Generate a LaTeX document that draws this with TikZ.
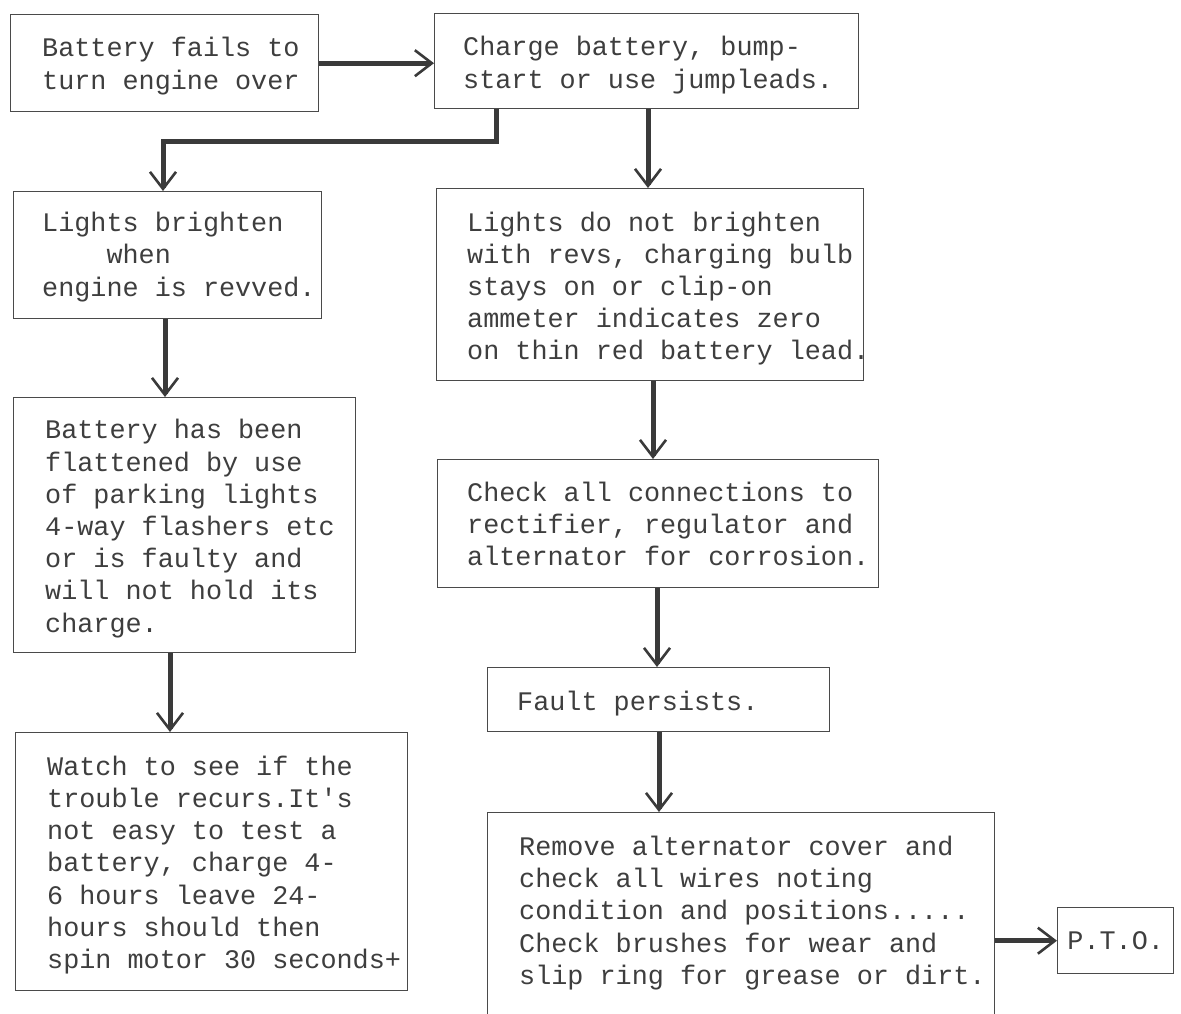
\documentclass[tikz,border=0pt]{standalone}
\usepackage{fontspec}
\newfontfamily\tw{Liberation Mono}
\usetikzlibrary{arrows.meta}
\definecolor{linec}{HTML}{4A4A4A}
\definecolor{textc}{HTML}{3E3E3E}
\definecolor{arrc}{HTML}{3A3A3A}
\begin{document}
\begin{tikzpicture}[x=1pt,y=-1pt,
  box/.style={draw=linec, line width=1.4pt, inner sep=0pt, anchor=north west},
  txt/.style={font=\tw\fontsize{26.8}{32.2}\selectfont, text=textc, align=left, inner sep=0pt, anchor=west},
  arr/.style={draw=arrc, line width=5pt, -{Straight Barb[length=17pt,width=26pt,line width=2.6pt]}}]
\useasboundingbox[fill=white] (0,0) rectangle (1181,1014);

% boxes
\node[box, minimum width=308pt, minimum height=97pt] (a) at (10,14) {};
\node[box, minimum width=424pt, minimum height=95pt] (b) at (434,13) {};
\node[box, minimum width=308pt, minimum height=127pt] (c) at (13,191) {};
\node[box, minimum width=427pt, minimum height=192pt] (d) at (436,188) {};
\node[box, minimum width=342pt, minimum height=255pt] (e) at (13,397) {};
\node[box, minimum width=441pt, minimum height=128pt] (f) at (437,459) {};
\node[box, minimum width=342pt, minimum height=64pt] (g) at (487,667) {};
\node[box, minimum width=392pt, minimum height=258pt] (h) at (15,732) {};
\node[box, minimum width=507pt, minimum height=210pt] (i) at (487,812) {};
\node[box, minimum width=116pt, minimum height=66pt] (j) at (1057,907) {};

% texts
\node[txt] (at) at (42,66.5) {\strut Battery fails to\\turn engine over\strut};
\node[txt] (bt) at (463,65.5) {\strut Charge battery, bump-\\start or use jumpleads.\strut};
\node[txt] (ct) at (42,257.5) {\strut Lights brighten\\\phantom{xxxx}when\\engine is revved.\strut};
\node[txt] (dt) at (467,289) {\strut Lights do not brighten\\with revs, charging bulb\\stays on or clip-on\\ammeter indicates zero\\on thin red battery lead.\strut};
\node[txt] (et) at (45,529) {\strut Battery has been\\flattened by use\\of parking lights\\4-way flashers etc\\or is faulty and\\will not hold its\\charge.\strut};
\node[txt] (ft) at (467,527) {\strut Check all connections to\\rectifier, regulator and\\alternator for corrosion.\strut};
\node[txt] (gt) at (517,704.5) {\strut Fault persists.\strut};
\node[txt] (ht) at (47,865.5) {\strut Watch to see if the\\trouble recurs.It's\\not easy to test a\\battery, charge 4-\\6 hours leave 24-\\hours should then\\spin motor 30 seconds+\strut};
\node[txt] (it) at (519,913.5) {\strut Remove alternator cover and\\check all wires noting\\condition and positions.....\\Check brushes for wear and\\slip ring for grease or dirt.\strut};
\node[txt, anchor=center] (jt) at ([yshift=-2pt]j.center) {\strut P.T.O.};

% connector helper coordinates
\coordinate (k1) at (496,142);
\coordinate (k2) at (163,142);
\coordinate (xbd) at (648,0);
\coordinate (xce) at (165,0);
\coordinate (xdf) at (653,0);
\coordinate (xeh) at (170,0);
\coordinate (xfg) at (657,0);
\coordinate (xgi) at (659,0);

% connectors
\draw[arr] (a.east) -- (b.west |- a.east);
\draw[arr] (b.south -| k1) -- (k1) -- (k2) -- (c.north -| k2);
\draw[arr] (b.south -| xbd) -- (d.north -| xbd);
\draw[arr] (c.south -| xce) -- (e.north -| xce);
\draw[arr] (d.south -| xdf) -- (f.north -| xdf);
\draw[arr] (e.south -| xeh) -- (h.north -| xeh);
\draw[arr] (f.south -| xfg) -- (g.north -| xfg);
\draw[arr] (g.south -| xgi) -- (i.north -| xgi);
\draw[arr] (i.east |- j.west) -- (j.west);
\end{tikzpicture}
\end{document}
